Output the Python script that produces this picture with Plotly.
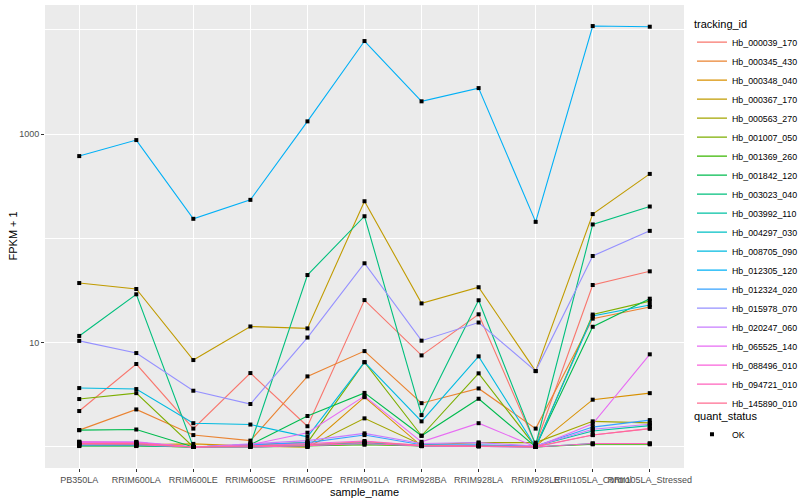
import numpy as np
import plotly.graph_objects as go

samples = ["PB350LA", "RRIM600LA", "RRIM600LE", "RRIM600SE", "RRIM600PE", "RRIM901LA",
           "RRIM928BA", "RRIM928LA", "RRIM928LE", "RRII105LA_Control", "RRII105LA_Stressed"]

tracking_ids = ["Hb_000039_170", "Hb_000345_430", "Hb_000348_040", "Hb_000367_170", "Hb_000563_270",
                "Hb_001007_050", "Hb_001369_260", "Hb_001842_120", "Hb_003023_040", "Hb_003992_110",
                "Hb_004297_030", "Hb_008705_090", "Hb_012305_120", "Hb_012324_020", "Hb_015978_070",
                "Hb_020247_060", "Hb_065525_140", "Hb_088496_010", "Hb_094721_010", "Hb_145890_010"]

# FPKM values per gene (plotted as FPKM + 1)
fpkm_000039_170 = [1.21, 5.24, 0.50, 4.11, 0.58, 24.6, 6.55, 17.7, 0.05, 34.7, 47.3]
fpkm_000345_430 = [0.45, 1.29, 0.30, 0.15, 3.75, 7.3, 1.63, 2.64, 0.50, 16.0, 21.0]
fpkm_000348_040 = [0.08, 0.05, 0.07, 0.02, 0.0, 2.0, 0.02, 0.03, 0.02, 1.84, 2.28]
fpkm_000367_170 = [36.3, 31.7, 5.81, 13.3, 12.7, 226, 22.8, 33.0, 4.34, 170, 414]
fpkm_000563_270 = [0.03, 0.03, 0.0, 0.02, 0.0, 0.88, 0.05, 0.10, 0.10, 0.76, 0.70]
fpkm_001007_050 = [1.88, 2.28, 0.0, 0.05, 0.10, 5.5, 0.28, 4.08, 0.0, 17.6, 24.0]
fpkm_001369_260 = [0.02, 0.02, 0.0, 0.0, 0.02, 0.05, 0.02, 0.02, 0.0, 0.06, 0.06]
fpkm_001842_120 = [0.45, 0.47, 0.0, 0.05, 0.98, 2.3, 0.28, 1.9, 0.0, 13.2, 25.4]
fpkm_003023_040 = [10.6, 28.1, 0.0, 0.05, 43.5, 162, 1.02, 24.5, 0.05, 135, 201]
fpkm_003992_110 = [0.05, 0.05, 0.0, 0.02, 0.05, 0.10, 0.02, 0.03, 0.02, 0.42, 0.60]
fpkm_004297_030 = [0.03, 0.03, 0.0, 0.0, 0.03, 0.08, 0.03, 0.02, 0.0, 0.08, 0.08]
fpkm_008705_090 = [2.67, 2.59, 0.69, 0.64, 0.25, 5.5, 0.76, 6.39, 0.0, 17.0, 22.0]
fpkm_012305_120 = [614, 875, 153, 233, 1323, 7799, 2060, 2759, 143, 10859, 10699]
fpkm_012324_020 = [0.10, 0.10, 0.0, 0.05, 0.10, 0.30, 0.05, 0.05, 0.02, 0.55, 0.81]
fpkm_015978_070 = [9.4, 6.95, 2.46, 1.58, 10.2, 56.7, 9.45, 14.6, 4.34, 66.8, 117]
fpkm_020247_060 = [0.12, 0.12, 0.0, 0.08, 0.15, 0.35, 0.08, 0.10, 0.02, 0.48, 0.65]
fpkm_065525_140 = [0.10, 0.10, 0.0, 0.05, 0.37, 2.07, 0.12, 0.69, 0.0, 0.67, 6.73]
fpkm_088496_010 = [0.12, 0.10, 0.0, 0.02, 0.08, 0.14, 0.03, 0.02, 0.0, 0.30, 0.50]
fpkm_094721_010 = [0.05, 0.05, 0.0, 0.0, 0.03, 0.08, 0.02, 0.01, 0.0, 0.08, 0.08]
fpkm_145890_010 = [0.08, 0.08, 0.0, 0.02, 0.05, 0.12, 0.04, 0.02, 0.01, 0.30, 0.50]

series = [fpkm_000039_170, fpkm_000345_430, fpkm_000348_040, fpkm_000367_170, fpkm_000563_270,
          fpkm_001007_050, fpkm_001369_260, fpkm_001842_120, fpkm_003023_040, fpkm_003992_110,
          fpkm_004297_030, fpkm_008705_090, fpkm_012305_120, fpkm_012324_020, fpkm_015978_070,
          fpkm_020247_060, fpkm_065525_140, fpkm_088496_010, fpkm_094721_010, fpkm_145890_010]

colors = ["#F8766D", "#EA8331", "#D89000", "#C09B00", "#A3A500", "#7CAE00", "#39B600", "#00BB4E",
          "#00BF7D", "#00C1A3", "#00BFC4", "#00BAE0", "#00B0F6", "#35A2FF", "#9590FF", "#C77CFF",
          "#E76BF3", "#FA62DB", "#FF62BC", "#FF6C91"]

FONT = "Liberation Sans, Arial, Helvetica, sans-serif"

fig = go.Figure()
for name, vals, col in zip(tracking_ids, series, colors):
    fig.add_trace(go.Scatter(
        x=samples, y=[v + 1 for v in vals], mode="lines", name=name,
        line=dict(color=col, width=1.1), legend="legend", showlegend=True))

all_x = [s for _ in series for s in samples]
all_y = [v + 1 for vals in series for v in vals]
fig.add_trace(go.Scatter(
    x=all_x, y=all_y, mode="markers", name="OK",
    marker=dict(color="black", size=4, symbol="square"),
    legend="legend2", showlegend=True))

ymin = np.log10(min(all_y))
ymax = np.log10(max(all_y))
pad = 0.05 * (ymax - ymin)

fig.update_layout(
    width=800, height=500,
    margin=dict(l=45, r=116, t=5, b=32, autoexpand=False),
    paper_bgcolor="white", plot_bgcolor="#EBEBEB",
    font=dict(family=FONT, size=9, color="black"),
    legend=dict(title=dict(text="tracking_id", font=dict(size=11, color="black")),
                x=1.0125, xanchor="left", y=0.982, yanchor="top",
                font=dict(size=8.8, color="black"), tracegroupgap=0,
                itemwidth=30, bgcolor="rgba(0,0,0,0)"),
    legend2=dict(title=dict(text="quant_status", font=dict(size=11, color="black")),
                 x=1.0125, xanchor="left", y=0.135, yanchor="top",
                 font=dict(size=8.8, color="black"), itemwidth=30,
                 bgcolor="rgba(0,0,0,0)"),
    annotations=[
        dict(text="sample_name", xref="paper", yref="paper", x=0.5, y=0,
             xanchor="center", yanchor="middle", yshift=-24, showarrow=False,
             font=dict(size=11, color="black")),
        dict(text="FPKM + 1", xref="paper", yref="paper", x=0, y=0.5,
             xanchor="center", yanchor="middle", xshift=-33, textangle=-90,
             showarrow=False, font=dict(size=11, color="black")),
    ],
)

fig.update_xaxes(
    type="category", categoryorder="array", categoryarray=samples,
    range=[-0.6, len(samples) - 0.4], automargin=False,
    showgrid=True, gridcolor="white", gridwidth=1.1, zeroline=False,
    ticks="outside", ticklen=3, tickcolor="#333333", tickwidth=1,
    tickangle=0, tickfont=dict(size=9, color="#4D4D4D"),
    showline=False,
)

fig.update_yaxes(
    type="log", range=[ymin - pad, ymax + pad], automargin=False,
    tickmode="array", tickvals=[10, 1000], ticktext=["10", "1000"],
    showgrid=True, gridcolor="white", gridwidth=1.1, zeroline=False,
    ticks="outside", ticklen=3, tickcolor="#333333", tickwidth=1,
    tickfont=dict(size=9, color="#4D4D4D"),
    minor=dict(tickmode="array", tickvals=[1, 100, 10000], showgrid=True,
               gridcolor="white", gridwidth=0.6, ticks=""),
    showline=False,
)

fig.write_html("out.html", config={"displayModeBar": False},
               post_script="document.body.style.margin='0';")
